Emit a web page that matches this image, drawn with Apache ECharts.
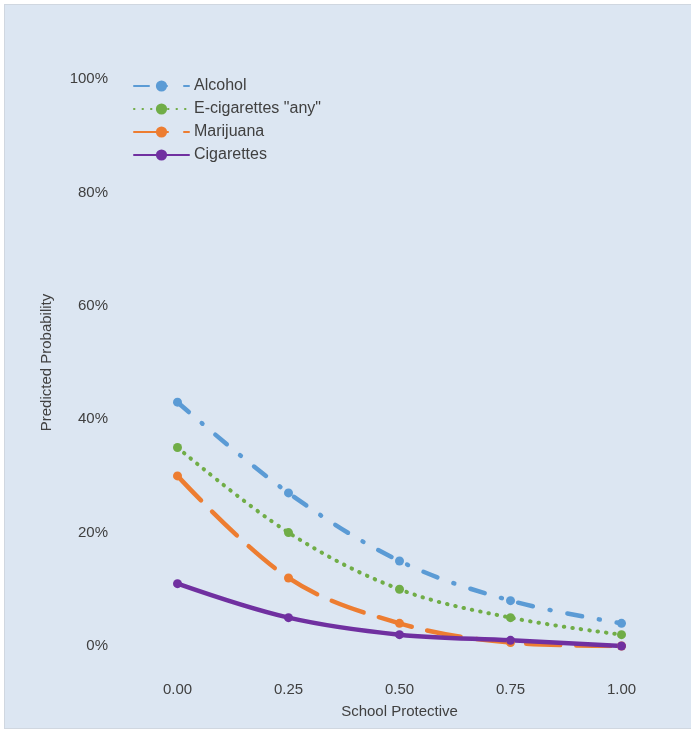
<!DOCTYPE html>
<html>
<head>
<meta charset="utf-8">
<script src="https://cdn.jsdelivr.net/npm/echarts@6/dist/echarts.min.js"></script>
<style>
html,body{margin:0;padding:0;background:#fff;}
#bg{position:absolute;left:4px;top:4px;width:686px;height:723px;background:#dce6f2;border:1px solid #d0d7e0;}
#c{position:absolute;left:0;top:0;width:691px;height:734px;}
</style>
</head>
<body>
<div id="bg"></div>
<div id="c"></div>
<script>
const categories = ['0.00', '0.25', '0.50', '0.75', '1.00'];
const alcohol = [43, 27, 15, 8, 4];
const ecig = [35, 20, 10, 5, 2];
const marijuana = [30, 12, 4, 0.6, 0];
const cigarettes = [11, 5, 2, 1, 0];
const yTicks = [0, 20, 40, 60, 80, 100];

const font = 'Liberation Sans, Arial, sans-serif';
const chart = echarts.init(document.getElementById('c'), null, {renderer: 'canvas'});

function mk(name, data, color, type, width, symSize) {
  return {
    name: name, type: 'line', data: data, smooth: 0.35,
    symbol: 'circle', symbolSize: symSize,
    itemStyle: {color: color},
    lineStyle: {color: color, width: width, type: type, cap: 'round'},
    emphasis: {disabled: true}
  };
}

chart.setOption({
  animation: false,
  backgroundColor: 'transparent',
  grid: {left: 122, right: 14, top: 79, bottom: 88, containLabel: false},
  legend: {
    orient: 'vertical', left: 128, top: 73,
    itemWidth: 55, itemHeight: 14, itemGap: 7,
    textStyle: {fontFamily: font, fontSize: 16, color: '#404040'},
    data: ['Alcohol', 'E-cigarettes "any"', 'Marijuana', 'Cigarettes']
  },
  xAxis: {
    type: 'category', data: categories, boundaryGap: true,
    name: 'School Protective', nameLocation: 'middle', nameGap: 58,
    nameTextStyle: {fontFamily: font, fontSize: 15, color: '#404040'},
    axisLine: {show: false}, axisTick: {show: false},
    axisLabel: {margin: 36, fontFamily: font, fontSize: 15, color: '#404040'}
  },
  yAxis: {
    type: 'value', min: 0, max: 100, interval: 20,
    name: 'Predicted Probability', nameLocation: 'middle', nameGap: 68,
    nameTextStyle: {fontFamily: font, fontSize: 15, color: '#404040'},
    axisLine: {show: false}, axisTick: {show: false}, splitLine: {show: false},
    axisLabel: {margin: 14, fontFamily: font, fontSize: 15, color: '#404040',
      formatter: function (v) { return yTicks.indexOf(v) >= 0 ? v + '%' : ''; }}
  },
  series: [
    mk('Alcohol', alcohol, '#5b9bd5', [15, 17, 1, 17], 4.5, 9),
    mk('E-cigarettes "any"', ecig, '#70ad47', [0.5, 8], 4, 9),
    mk('Marijuana', marijuana, '#ed7d31', [34, 16], 4.5, 9),
    mk('Cigarettes', cigarettes, '#7030a0', 'solid', 4.5, 9)
  ]
});
</script>
</body>
</html>
